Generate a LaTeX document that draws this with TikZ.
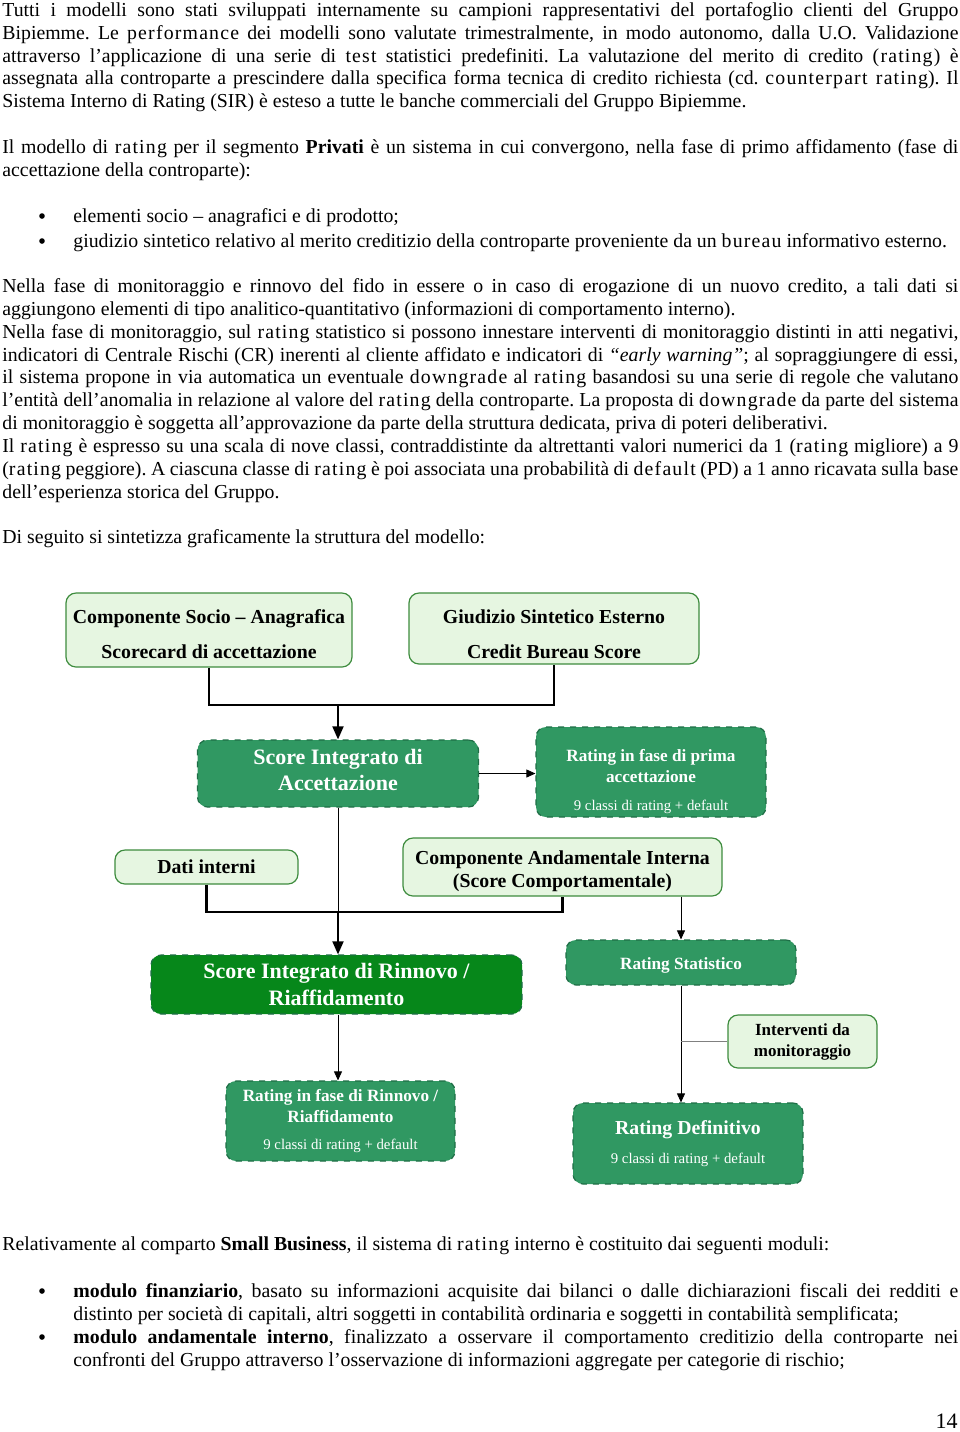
\documentclass[tikz,border=0pt]{standalone}
\usepackage{fontspec}
\setmainfont{Liberation Serif}
\usetikzlibrary{arrows.meta}
\definecolor{palegreen}{RGB}{230,246,225}
\definecolor{edgegreen}{RGB}{62,140,62}
\definecolor{midgreen}{RGB}{48,152,98}
\definecolor{darkgreen}{RGB}{6,135,26}
\definecolor{dashgreen}{RGB}{30,110,70}
\frenchspacing
\newcommand{\ls}[1]{{\addfontfeature{LetterSpace=6}#1}}
\newcommand{\jl}[1]{\makebox[478pt][s]{#1}}
\newcommand{\jb}[1]{\makebox[442.5pt][s]{#1}}
\newcommand{\tall}[1]{\rule{0pt}{#1}}
\newcommand{\deep}[1]{\rule[-#1]{0pt}{#1}}

\begin{document}
\begin{tikzpicture}[x=0.5pt,y=-0.5pt,
  txt/.style={anchor=base west,inner sep=0pt,font=\fontsize{9.9}{11.4}\selectfont},
  dot/.style={circle,fill=black,inner sep=0pt,minimum size=2.8pt},
  inbox/.style={draw=edgegreen,fill=palegreen,line width=0.6pt,rounded corners=5pt,align=center,inner sep=0pt,font=\fontsize{9.9}{11.4}\selectfont\bfseries},
  outbox/.style={draw=dashgreen,fill=midgreen,dashed,line width=0.6pt,rounded corners=5pt,align=center,inner sep=0pt,text=white},
  thickline/.style={line width=1.1pt},
  flow/.style={-{Triangle[length=4.5pt,width=4pt]},line width=0.4pt},
  bigflow/.style={-{Triangle[length=6.5pt,width=5.5pt]},line width=0.9pt}]
\useasboundingbox (0,0) rectangle (960,1432);

% testo sopra lo schema
\node[txt] (t1) at (2,16) {\jl{Tutti i modelli sono stati sviluppati internamente su campioni rappresentativi del portafoglio clienti del Gruppo}};
\node[txt] (t2) at (2,39) {\jl{Bipiemme. Le \ls{performance} dei modelli sono valutate trimestralmente, in modo autonomo, dalla U.O. Validazione}};
\node[txt] (t3) at (2,62) {\jl{attraverso l’applicazione di una serie di \ls{test} statistici predefiniti. La valutazione del merito di credito \ls{(rating)} è}};
\node[txt] (t4) at (2,84) {\jl{assegnata alla controparte a prescindere dalla specifica forma tecnica di credito richiesta (cd. \ls{counterpart rating}). Il}};
\node[txt] (t5) at (2,107) {Sistema Interno di Rating (SIR) è esteso a tutte le banche commerciali del Gruppo Bipiemme.};
\node[txt] (t6) at (2,153) {\jl{Il modello di \ls{rating} per il segmento \textbf{Privati} è un sistema in cui convergono, nella fase di primo affidamento (fase di}};
\node[txt] (t7) at (2,176) {accettazione della controparte):};
\node[dot] (d1) at (42,216) {};
\node[txt] (t8) at (73,222) {elementi socio – anagrafici e di prodotto;};
\node[dot] (d2) at (42,241) {};
\node[txt] (t9) at (73,247) {giudizio sintetico relativo al merito creditizio della controparte proveniente da un \ls{bureau} informativo esterno.};
\node[txt] (t10) at (2,292) {\jl{Nella fase di monitoraggio e rinnovo del fido in essere o in caso di erogazione di un nuovo credito, a tali dati si}};
\node[txt] (t11) at (2,315) {aggiungono elementi di tipo analitico-quantitativo (informazioni di comportamento interno).};
\node[txt] (t12) at (2,338) {\jl{Nella fase di monitoraggio, sul \ls{rating} statistico si possono innestare interventi di monitoraggio distinti in atti negativi,}};
\node[txt] (t13) at (2,361) {\jl{indicatori di Centrale Rischi (CR) inerenti al cliente affidato e indicatori di \textit{“early warning”}; al sopraggiungere di essi,}};
\node[txt] (t14) at (2,383) {\jl{il sistema propone in via automatica un eventuale \ls{downgrade} al \ls{rating} basandosi su una serie di regole che valutano}};
\node[txt] (t15) at (2,406) {\jl{l’entità dell’anomalia in relazione al valore del \ls{rating} della controparte. La proposta di \ls{downgrade} da parte del sistema}};
\node[txt] (t16) at (2,429) {di monitoraggio è soggetta all’approvazione da parte della struttura dedicata, priva di poteri deliberativi.};
\node[txt] (t17) at (2,452) {\jl{Il \ls{rating} è espresso su una scala di nove classi, contraddistinte da altrettanti valori numerici da 1 (\ls{rating} migliore) a 9}};
\node[txt] (t18) at (2,475) {\jl{(\ls{rating} peggiore). A ciascuna classe di \ls{rating} è poi associata una probabilità di \ls{default} (PD) a 1 anno ricavata sulla base}};
\node[txt] (t19) at (2,498) {dell’esperienza storica del Gruppo.};
\node[txt] (t20) at (2,543) {Di seguito si sintetizza graficamente la struttura del modello:};

% schema
\node[inbox,minimum width=143pt,minimum height=37pt] (socio) at (209,630) {\tall{11.3pt}Componente Socio – Anagrafica\\[6pt]Scorecard di accettazione};
\node[inbox,minimum width=145pt,minimum height=35.5pt] (bureau) at (554,628.5) {\tall{12.8pt}Giudizio Sintetico Esterno\\[6pt]Credit Bureau Score};
\coordinate (j1) at (338,705);
\node[outbox,minimum width=140.5pt,minimum height=33.5pt,font=\fontsize{11}{13}\selectfont\bfseries] (accett) at (338,773.5) {Score Integrato di\\Accettazione\deep{4pt}};
\node[outbox,minimum width=115pt,minimum height=45pt,font=\fontsize{8.6}{10.5}\selectfont\bfseries] (primo) at (651,772) {\tall{15.9pt}Rating in fase di prima\\accettazione\\[3.5pt]{\mdseries\fontsize{7.4}{9}\selectfont 9 classi di rating + default}};
\node[inbox,minimum width=91.5pt,minimum height=17pt] (dati) at (206.5,867) {Dati interni};
\node[inbox,minimum width=159.5pt,minimum height=29pt] (andam) at (562.5,867) {\tall{10.8pt}Componente Andamentale Interna\\(Score Comportamentale)};
\coordinate (j2) at (338,912);
\node[outbox,fill=darkgreen,minimum width=185.5pt,minimum height=29.5pt,font=\fontsize{11}{13.5}\selectfont\bfseries] (rinnovo) at (336.5,984.5) {Score Integrato di Rinnovo /\\Riaffidamento};
\node[outbox,minimum width=115pt,minimum height=22.5pt,font=\fontsize{8.6}{10.5}\selectfont\bfseries] (stat) at (681,962.5) {\tall{8.9pt}Rating Statistico};
\node[inbox,minimum width=74.5pt,minimum height=26.5pt,font=\fontsize{8.5}{10.5}\selectfont\bfseries] (interv) at (802.5,1041.5) {Interventi da\\monitoraggio};
\node[outbox,minimum width=114.5pt,minimum height=40pt,font=\fontsize{8.6}{10.5}\selectfont\bfseries] (riaff) at (340.5,1121) {Rating in fase di Rinnovo /\\Riaffidamento\\[3pt]{\mdseries\fontsize{7.4}{9}\selectfont 9 classi di rating + default}};
\node[outbox,minimum width=115pt,minimum height=40.5pt,font=\fontsize{9.9}{11.4}\selectfont\bfseries] (defin) at (688,1143.5) {Rating Definitivo\\[3pt]{\mdseries\fontsize{7.4}{9}\selectfont 9 classi di rating + default}};

\draw[thickline] (socio.south) |- (j1) -| (bureau.south);
\draw[bigflow] (j1) -- (accett.north);
\draw[flow] (accett.east) -- (accett.east -| primo.west);
\draw[line width=0.4pt] (accett.south) -- (j2);
\draw[thickline] (dati.south) |- (j2) -| (andam.south);
\draw[bigflow] (j2) -- (j2 |- rinnovo.north);
\draw[flow] (andam.south -| stat.north) -- (stat.north);
\draw[flow] (stat.south) -- (stat.south |- defin.north);
\draw[gray,line width=0.4pt] (interv.west) -- (interv.west -| stat.south);
\draw[flow] (j2 |- rinnovo.south) -- (j2 |- riaff.north);

% testo sotto lo schema
\node[txt] (t21) at (2,1250) {Relativamente al comparto \textbf{Small Business}, il sistema di \ls{rating} interno è costituito dai seguenti moduli:};
\node[dot] (d3) at (42,1291) {};
\node[txt] (t22) at (73,1297) {\jb{\textbf{modulo finanziario}, basato su informazioni acquisite dai bilanci o dalle dichiarazioni fiscali dei redditi e}};
\node[txt] (t23) at (73,1320) {distinto per società di capitali, altri soggetti in contabilità ordinaria e soggetti in contabilità semplificata;};
\node[dot] (d4) at (42,1337) {};
\node[txt] (t24) at (73,1343) {\jb{\textbf{modulo andamentale interno}, finalizzato a osservare il comportamento creditizio della controparte nei}};
\node[txt] (t25) at (73,1366) {confronti del Gruppo attraverso l’osservazione di informazioni aggregate per categorie di rischio;};
\node[txt,anchor=base east,font=\fontsize{11}{13}\selectfont] (pag) at (958,1428) {14};
\end{tikzpicture}
\end{document}
